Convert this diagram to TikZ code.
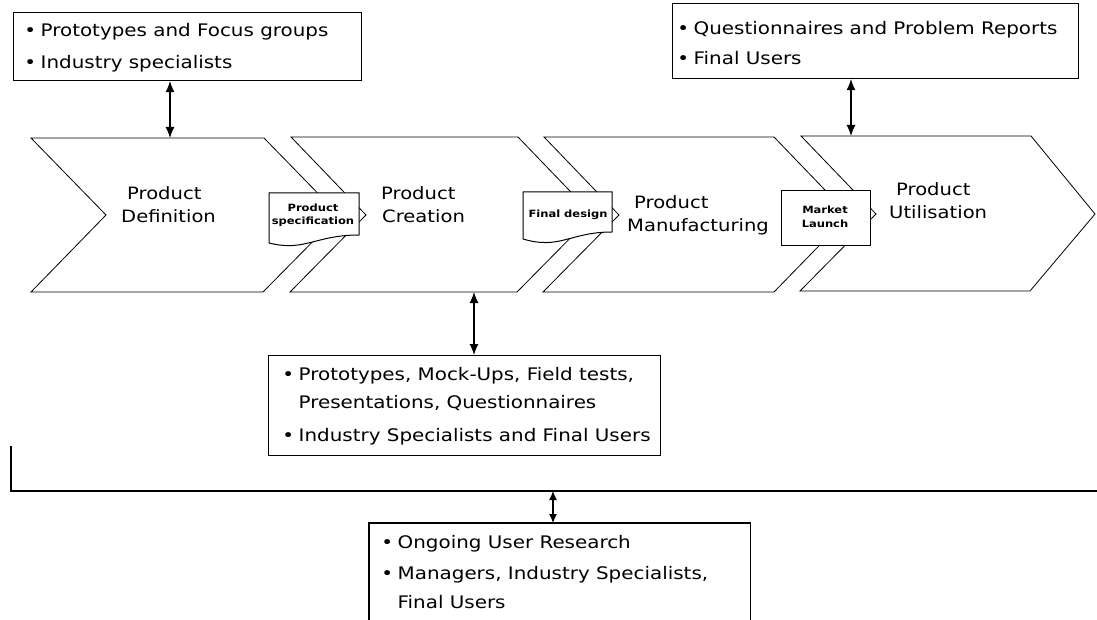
\documentclass[tikz,border=0pt]{standalone}
\usepackage{fontspec}
\setmainfont[FakeStretch=1.15]{DejaVu Sans}
\usetikzlibrary{arrows.meta}
\newcommand\mybul{\makebox[0pt][r]{\textbullet\hspace{4.5pt}}}
\begin{document}
\begin{tikzpicture}[x=1pt,y=-1pt,
  chev/.style={draw=black, fill=white, line width=0.8pt, line join=miter},
  doc/.style={draw=black, fill=white, line width=1pt},
  box/.style={draw=black, fill=white, line width=1.1pt, inner sep=0pt},
  boxline/.style={draw=black, line width=1.1pt},
  dbl/.style={line width=1.1pt, {Latex[length=11pt,width=9pt]}-{Latex[length=11pt,width=9pt]}},
  dbls/.style={line width=1.1pt, {Latex[length=9pt,width=8pt]}-{Latex[length=9pt,width=8pt]}},
  lbl/.style={anchor=base west, inner sep=0pt, font=\fontsize{17}{20}\selectfont},
  btxt/.style={anchor=base west, inner sep=0pt, font=\fontsize{17.3}{20}\selectfont},
  small/.style={anchor=base, inner sep=0pt, font=\bfseries\fontsize{10}{12}\selectfont},
]
\useasboundingbox (0,0) rectangle (1097,620);
\fill[white] (0,0) rectangle (1097,620);

% chevrons
\draw[chev] (31,138) -- (264,138) -- (339,215) -- (263,292) -- (31,292) -- (106,215) -- cycle;
\draw[chev] (291,137) -- (518,137) -- (593,215) -- (517,292) -- (290,292) -- (366,215) -- cycle;
\draw[chev] (544,137) -- (774,137) -- (849,215) -- (774,292) -- (543,292) -- (619,215) -- cycle;
\draw[chev] (801,136) -- (1031,136) -- (1095,214) -- (1030,291) -- (800,291) -- (876,214) -- cycle;

\coordinate (c1t) at (170,138);
\coordinate (c4t) at (851,136);
\coordinate (c2b) at (474,292);

% chevron labels
\node[lbl] (d1) at (127,200) {Product};
\node[lbl] (d2) at (121,223) {Definition};
\node[lbl] (cr1) at (381,200) {Product};
\node[lbl] (cr2) at (382,223) {Creation};
\node[lbl] (m1) at (634,209) {Product};
\node[lbl] (m2) at (627,232) {Manufacturing};
\node[lbl] (u1) at (896,196) {Product};
\node[lbl] (u2) at (889,219) {Utilisation};

% document shapes
\draw[doc] (269,243) -- (269,193) -- (359,193) -- (359,235) .. controls (315,235) and (305,252) .. (269,243) -- cycle;
\node[small] (ps1) at (313,212) {Product};
\node[small] (ps2) at (313,225) {specification};
\draw[doc] (523,239) -- (523,192) -- (612,192) -- (612,232) .. controls (570,232) and (560,250) .. (523,239) -- cycle;
\node[small] (fd) at (568,218) {Final design};
\node[box, line width=1pt, minimum width=89, minimum height=55, anchor=north west] (mlb) at (781,190) {};
\node[small] (ml1) at (825,214) {Market};
\node[small] (ml2) at (825,228) {Launch};

% top-left box
\node[box, minimum width=348, minimum height=68, anchor=north west] (tlb) at (13,12) {};
\node[btxt] (tl1) at (40.5,37) {\mybul Prototypes and Focus groups};
\node[btxt] (tl2) at (40.5,69) {\mybul Industry specialists};
\draw[dbl] (tlb.south -| c1t) -- (c1t);

% top-right box
\node[box, minimum width=406, minimum height=75, anchor=north west] (trb) at (672,3) {};
\node[btxt] (tr1) at (693.5,35) {\mybul Questionnaires and Problem Reports};
\node[btxt] (tr2) at (693.5,65) {\mybul Final Users};
\draw[dbl] (trb.south -| c4t) -- (c4t);

% middle box
\node[box, minimum width=392, minimum height=100, anchor=north west] (mb) at (268,355) {};
\node[btxt] (mb1) at (298.5,380) {\mybul Prototypes, Mock-Ups, Field tests,};
\node[btxt] (mb2) at (298.5,408) {Presentations, Questionnaires};
\node[btxt] (mb3) at (298.5,441) {\mybul Industry Specialists and Final Users};
\draw[dbl] (c2b) -- (mb.north -| c2b);

% bracket line
\coordinate (brk) at (11,446);
\coordinate (brkend) at (1097,491);
\coordinate (hl) at (553,491);
\draw[line width=1.6pt] (brk) |- (brkend);

% bottom box
\node[inner sep=0pt, minimum width=381, minimum height=100, anchor=north west] (bb) at (369,523) {};
\draw[boxline] (bb.south west) -- (bb.north west) -- (bb.north east) -- (bb.south east);
\node[btxt] (bb1) at (397.5,548) {\mybul Ongoing User Research};
\node[btxt] (bb2) at (397.5,579) {\mybul Managers, Industry Specialists,};
\node[btxt] (bb3) at (397.5,608) {Final Users};
\draw[dbls] (hl) -- (bb.north -| hl);
\end{tikzpicture}
\end{document}
